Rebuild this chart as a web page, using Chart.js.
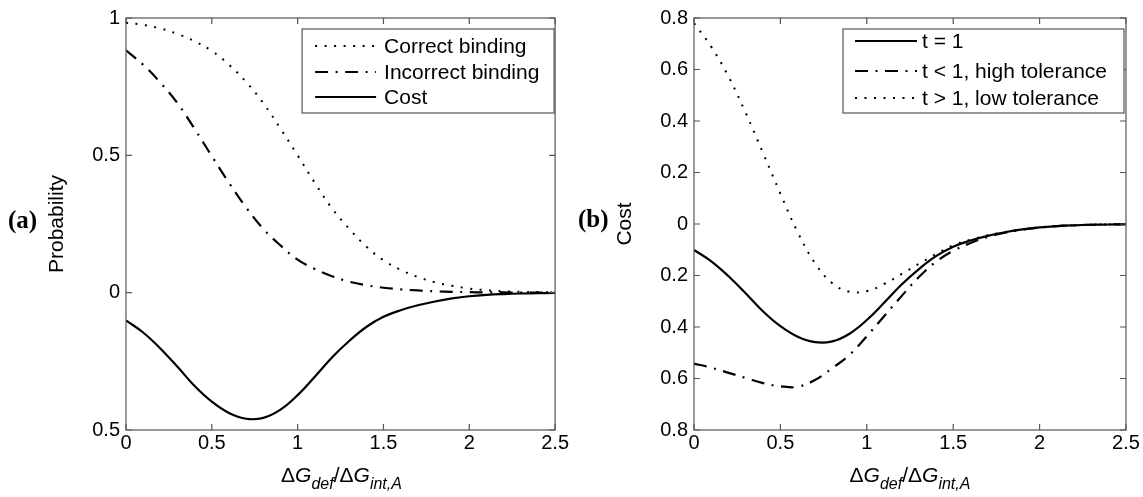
<!DOCTYPE html>
<html><head><meta charset="utf-8">
<script src="https://cdn.jsdelivr.net/npm/chart.js@4.4.1/dist/chart.umd.min.js"></script>
<style>
html,body{margin:0;padding:0;background:#fff;}
#wrap{position:relative;width:1143px;height:497px;overflow:hidden;font-family:'Liberation Sans',Arial,sans-serif;color:#000;}
.cv{position:absolute;top:0;}
.panel{position:absolute;font-family:'Liberation Serif','Times New Roman',serif;font-weight:bold;font-size:25px;line-height:25px;}
.xt{position:absolute;text-align:center;font-size:21px;line-height:21px;white-space:nowrap;}
.xt sub{font-size:16px;font-style:italic;vertical-align:-7px;line-height:0;}
</style></head>
<body><div id="wrap">
<div class="cv" style="left:0;"><canvas id="c1" width="570" height="497"></canvas></div>
<div class="cv" style="left:570px;"><canvas id="c2" width="573" height="497"></canvas></div>
<div class="panel" style="left:8px;top:207px">(a)</div>
<div class="panel" style="left:578px;top:206px">(b)</div>
<div class="xt" style="left:126px;width:431px;top:464px">Δ<i>G</i><sub>def</sub>/Δ<i>G</i><sub>int,A</sub></div>
<div class="xt" style="left:694px;width:432px;top:464px">Δ<i>G</i><sub>def</sub>/Δ<i>G</i><sub>int,A</sub></div>
</div>
<script>
// ---- data ----
const xValues = [0,0.1,0.2,0.3,0.4,0.5,0.6,0.7,0.8,0.9,1.0,1.1,1.2,1.3,1.4,1.5,1.6,1.7,1.8,1.9,2.0,2.1,2.2,2.3,2.4,2.5];
const correctBinding   = [0.983,0.975,0.962,0.942,0.915,0.88,0.83,0.767,0.69,0.597,0.50,0.40,0.307,0.233,0.168,0.118,0.083,0.057,0.038,0.025,0.015,0.009,0.005,0.003,0.002,0.001];
const incorrectBinding = [0.882,0.83,0.765,0.69,0.596,0.497,0.40,0.31,0.232,0.172,0.12,0.086,0.06,0.04,0.027,0.018,0.012,0.008,0.005,0.003,0.002,0.001,0.001,0,0,0];
const costT1           = [-0.101,-0.145,-0.203,-0.27,-0.34,-0.397,-0.438,-0.459,-0.456,-0.426,-0.373,-0.306,-0.236,-0.176,-0.125,-0.088,-0.064,-0.046,-0.032,-0.021,-0.013,-0.008,-0.005,-0.003,-0.002,-0.001];
const costHighTol      = [-0.542,-0.558,-0.578,-0.598,-0.618,-0.63,-0.632,-0.606,-0.56,-0.508,-0.436,-0.358,-0.281,-0.207,-0.147,-0.104,-0.074,-0.050,-0.034,-0.022,-0.014,-0.008,-0.005,-0.003,-0.002,-0.001];
const costLowTol       = [0.78,0.688,0.572,0.43,0.275,0.118,-0.032,-0.152,-0.23,-0.263,-0.261,-0.233,-0.195,-0.155,-0.117,-0.082,-0.061,-0.044,-0.031,-0.021,-0.013,-0.008,-0.005,-0.003,-0.002,-0.001];
const xTicks  = [0,0.5,1,1.5,2,2.5];
const yTicksA = [-0.5,0,0.5,1];
const yTicksB = [-0.8,-0.6,-0.4,-0.2,0,0.2,0.4,0.6,0.8];
const labelsA = ['Correct binding','Incorrect binding','Cost'];
const labelsB = ['t = 1','t < 1, high tolerance','t > 1, low tolerance'];

// ---- styles ----
const FAM = "'Liberation Sans', Arial, sans-serif";
const DOT = [2, 7.5];
const DASHDOT = [13, 7.5, 2, 7.5];
const pts = arr => xValues.map((x,i)=>({x, y:arr[i]}));
const fmt = v => String(Math.abs(Math.round(v*10)/10));

const framePlugin = {
  id:'frame',
  afterDatasetsDraw(chart){
    const {ctx, chartArea:a, scales:{x,y}} = chart;
    ctx.save();
    ctx.strokeStyle='#555'; ctx.lineWidth=1.2; ctx.setLineDash([]);
    ctx.strokeRect(a.left, a.top, a.right-a.left, a.bottom-a.top);
    const L=6;
    ctx.beginPath();
    x.ticks.forEach(t=>{const p=x.getPixelForValue(t.value);
      ctx.moveTo(p,a.bottom); ctx.lineTo(p,a.bottom-L); ctx.moveTo(p,a.top); ctx.lineTo(p,a.top+L);});
    y.ticks.forEach(t=>{const p=y.getPixelForValue(t.value);
      ctx.moveTo(a.left,p); ctx.lineTo(a.left+L,p); ctx.moveTo(a.right,p); ctx.lineTo(a.right-L,p);});
    ctx.stroke();
    ctx.restore();
  }
};
const boxLegend = {
  id:'boxLegend',
  afterDraw(chart, args, o){
    const {ctx, chartArea:a} = chart;
    const bx = a.right - o.right - o.width, by = a.top + o.top;
    ctx.save();
    ctx.fillStyle='#fff'; ctx.fillRect(bx,by,o.width,o.height);
    ctx.strokeStyle='#555'; ctx.lineWidth=1.2; ctx.setLineDash([]);
    ctx.strokeRect(bx,by,o.width,o.height);
    chart.data.datasets.forEach((ds,i)=>{
      const yy = by + o.rows[i];
      ctx.strokeStyle=ds.borderColor; ctx.lineWidth=ds.borderWidth;
      ctx.setLineDash(ds.borderDash||[]); ctx.lineCap='butt';
      ctx.beginPath(); ctx.moveTo(bx+o.x1,yy); ctx.lineTo(bx+o.x2,yy); ctx.stroke();
      ctx.setLineDash([]);
      ctx.fillStyle='#000'; ctx.font='21px '+FAM; ctx.textBaseline='middle'; ctx.textAlign='left';
      ctx.fillText(ds.label, bx+o.tx, yy+1);
    });
    ctx.restore();
  }
};

function makeChart(id, datasets, yMin, yMax, yTicks, yTitle, padLeft, padRight, legendOpts){
  return new Chart(document.getElementById(id), {
    type:'line',
    data:{datasets},
    plugins:[framePlugin, boxLegend],
    options:{
      responsive:false, animation:false, devicePixelRatio:1,
      layout:{padding:{left:padLeft, right:padRight, top:12, bottom:0}},
      elements:{point:{radius:0}, line:{tension:0.4, fill:false}},
      plugins:{legend:{display:false}, tooltip:{enabled:false}, boxLegend:legendOpts},
      scales:{
        x:{type:'linear', min:0, max:2.5,
          afterBuildTicks:s=>{s.ticks = xTicks.map(v=>({value:v}));},
          afterFit:s=>{s.height=67;},
          grid:{display:false, drawTicks:false}, border:{display:false},
          ticks:{font:{family:FAM,size:20}, color:'#000', padding:1, maxRotation:0, autoSkip:false, callback:v=>String(v)}
        },
        y:{type:'linear', min:yMin, max:yMax,
          afterBuildTicks:s=>{s.ticks = yTicks.map(v=>({value:v}));},
          afterFit:s=>{s.width=81;},
          grid:{display:false, drawTicks:false}, border:{display:false},
          ticks:{font:{family:FAM,size:20}, color:'#000', padding:6, callback:v=>fmt(v), autoSkip:false},
          title:{display:true, text:yTitle, font:{family:FAM,size:21}, color:'#000', padding:0}
        }
      }
    }
  });
}

makeChart('c1', [
  {label:labelsA[0], data:pts(correctBinding), borderColor:'#000', borderWidth:2, borderDash:DOT},
  {label:labelsA[1], data:pts(incorrectBinding), borderColor:'#000', borderWidth:2.2, borderDash:DASHDOT},
  {label:labelsA[2], data:pts(costT1), borderColor:'#000', borderWidth:2.2}
], -0.5, 1, yTicksA, 'Probability', 45, 13,
  {right:1, top:11, width:252, height:84, rows:[17,43,68], x1:13, x2:74, tx:82});

makeChart('c2', [
  {label:labelsB[0], data:pts(costT1), borderColor:'#000', borderWidth:2.2},
  {label:labelsB[1], data:pts(costHighTol), borderColor:'#000', borderWidth:2.2, borderDash:DASHDOT},
  {label:labelsB[2], data:pts(costLowTol), borderColor:'#000', borderWidth:2, borderDash:DOT}
], -0.8, 0.8, yTicksB, 'Cost', 43, 17,
  {right:2, top:11, width:281, height:84, rows:[12,42,69], x1:12, x2:74, tx:79});
</script>
</body></html>
